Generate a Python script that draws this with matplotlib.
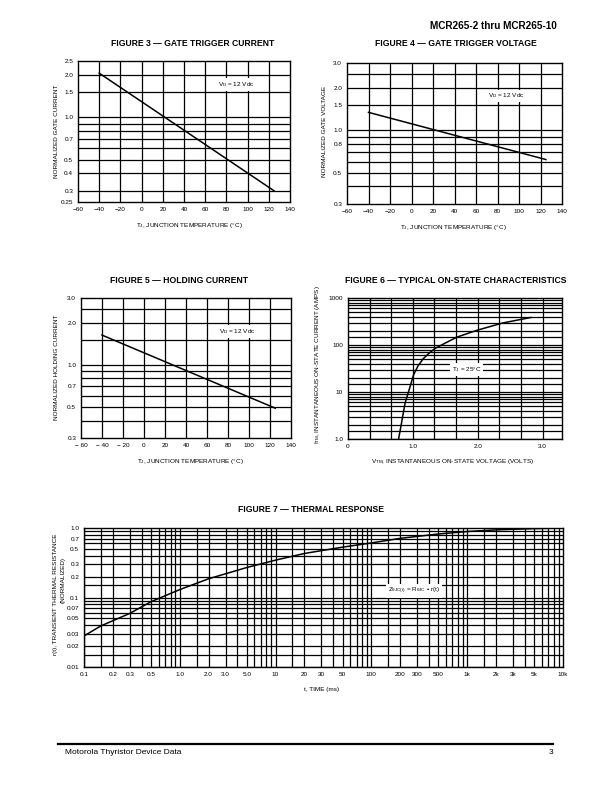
import matplotlib
matplotlib.use("Agg")
import matplotlib.pyplot as plt
from matplotlib.ticker import NullLocator

plt.rcParams['font.family'] = ['Liberation Sans', 'DejaVu Sans']
plt.rcParams['mathtext.fontset'] = 'custom'
plt.rcParams['mathtext.rm'] = 'Liberation Sans'
plt.rcParams['mathtext.it'] = 'Liberation Sans'
plt.rcParams['mathtext.default'] = 'regular'

W, H = 612, 792

# --- donnees ---
temp_f3 = [-40, 125]
igt_f3 = [2.05, 0.30]

temp_f4 = [-40, 125]
vgt_f4 = [1.34, 0.62]

temp_f5 = [-40, 125]
ih_f5 = [1.63, 0.49]

vtm_f6 = [0.78, 0.82, 0.88, 0.95, 1.01, 1.08, 1.16, 1.25, 1.34, 1.5, 1.68, 1.98, 2.39, 2.82]
itm_f6 = [1.0, 2.0, 5.8, 12, 23, 36, 51, 67, 84, 110, 147, 204, 295, 385]

t_f7 = [0.1, 0.15, 0.3, 0.5, 1, 2, 5, 10, 20, 50, 100, 200, 500, 1000, 2000, 5000, 10000]
r_f7 = [0.028, 0.039, 0.059, 0.087, 0.13, 0.186, 0.27, 0.345, 0.43, 0.53, 0.61, 0.71, 0.82, 0.89, 0.94, 0.98, 1.0]

# --- graduations ---
temp_ticks = [-60, -40, -20, 0, 20, 40, 60, 80, 100, 120, 140]
temp_labels = ['\u221260', '\u221240', '\u221220', '0', '20', '40', '60', '80', '100', '120', '140']
temp_labels_f5 = ['\u2212 60', '\u2212 40', '\u2212 20', '0', '20', '40', '60', '80', '100', '120', '140']
temp_grid = [-40, -20, 0, 20, 40, 60, 80, 100, 120]

f3_yticks = [2.5, 2.0, 1.5, 1.0, 0.7, 0.5, 0.4, 0.3, 0.25]
f3_ylabels = ['2.5', '2.0', '1.5', '1.0', '0.7', '0.5', '0.4', '0.3', '0.25']
f3_ygrid = [0.3, 0.4, 0.5, 0.6, 0.7, 0.8, 0.9, 1.0, 1.5, 2.0]

f4_yticks = [3.0, 2.0, 1.5, 1.0, 0.8, 0.5, 0.3]
f4_ylabels = ['3.0', '2.0', '1.5', '1.0', '0.8', '0.5', '0.3']
f5_yticks = [3.0, 2.0, 1.0, 0.7, 0.5, 0.3]
f5_ylabels = ['3.0', '2.0', '1.0', '0.7', '0.5', '0.3']
f45_ygrid = [0.4, 0.5, 0.6, 0.7, 0.8, 0.9, 1.0, 1.5, 2.0, 2.5]

f6_xticks = [0, 1.0, 2.0, 3.0]
f6_xlabels = ['0', '1.0', '2.0', '3.0']
f6_xgrid = [1/3, 2/3, 1.0, 4/3, 5/3, 2.0, 7/3, 8/3, 3.0]
f6_yticks = [1, 10, 100, 1000]
f6_ylabels = ['1.0', '10', '100', '1000']

f7_xticks = [0.1, 0.2, 0.3, 0.5, 1, 2, 3, 5, 10, 20, 30, 50, 100, 200, 300, 500, 1000, 2000, 3000, 5000, 10000]
f7_xlabels = ['0.1', '0.2', '0.3', '0.5', '1.0', '2.0', '3.0', '5.0', '10', '20', '30', '50',
              '100', '200', '300', '500', '1k', '2k', '3k', '5k', '10k']
f7_yticks = [1.0, 0.7, 0.5, 0.3, 0.2, 0.1, 0.07, 0.05, 0.03, 0.02, 0.01]
f7_ylabels = ['1.0', '0.7', '0.5', '0.3', '0.2', '0.1', '0.07', '0.05', '0.03', '0.02', '0.01']

mantisses = [1, 1.5, 2, 3, 4, 5, 6, 7, 8, 9]


def log_grid(lo_exp, hi_exp):
    vals = []
    for e in range(lo_exp, hi_exp):
        for m in mantisses:
            vals.append(m * 10 ** e)
    return vals


fig = plt.figure(figsize=(W / 100, H / 100), dpi=100)


def px_axes(l, t, r, b):
    return fig.add_axes([l / W, 1 - b / H, (r - l) / W, (b - t) / H])


def px_text(x, y, s, **kw):
    fig.text(x / W, 1 - y / H, s, **kw)


def style(ax, xgrid, ygrid, xticks, xlabels, yticks, ylabels):
    for v in xgrid:
        ax.axvline(v, color='black', lw=0.9, zorder=1)
    for v in ygrid:
        ax.axhline(v, color='black', lw=0.9, zorder=1)
    ax.set_xticks(xticks)
    ax.set_xticklabels(xlabels)
    ax.set_yticks(yticks)
    ax.set_yticklabels(ylabels)
    ax.xaxis.set_minor_locator(NullLocator())
    ax.yaxis.set_minor_locator(NullLocator())
    ax.tick_params(length=0, labelsize=4.6, pad=3.5)
    for s in ax.spines.values():
        s.set_linewidth(1.0)


title_kw = dict(fontsize=6.2, fontweight='bold', ha='center', va='center')
lab_kw = dict(fontsize=4.6, ha='center', va='center')
box_kw = dict(boxstyle='square,pad=0.3', fc='white', ec='none')

# en-tete
px_text(557, 26, 'MCR265-2 thru MCR265-10', fontsize=7.2, fontweight='heavy', ha='right', va='center')

# FIGURE 3
ax3 = px_axes(78, 61, 290, 202)
ax3.set_yscale('log')
ax3.set_xlim(-60, 140)
ax3.set_ylim(0.25, 2.5)
style(ax3, temp_grid, f3_ygrid, temp_ticks, temp_labels, f3_yticks, f3_ylabels)
ax3.plot(temp_f3, igt_f3, color='black', lw=1.1, zorder=3)
ax3.text(72, 1.7, '$V_D$ = 12 Vdc', fontsize=4.6, va='center', bbox=box_kw, zorder=4)
px_text(193, 43, 'FIGURE 3 \u2014 GATE TRIGGER CURRENT', **title_kw)
px_text(189, 226, '$T_J$, JUNCTION TEMPERATURE (\u00b0C)', **lab_kw)
px_text(57, 131, 'NORMALIZED GATE CURRENT', rotation=90, **lab_kw)

# FIGURE 4
ax4 = px_axes(347, 63, 562, 204)
ax4.set_yscale('log')
ax4.set_xlim(-60, 140)
ax4.set_ylim(0.3, 3.0)
style(ax4, temp_grid, f45_ygrid, temp_ticks, temp_labels, f4_yticks, f4_ylabels)
ax4.plot(temp_f4, vgt_f4, color='black', lw=1.1, zorder=3)
ax4.text(71, 1.75, '$V_D$ = 12 Vdc', fontsize=4.6, va='center', bbox=box_kw, zorder=4)
px_text(456, 43, 'FIGURE 4 \u2014 GATE TRIGGER VOLTAGE', **title_kw)
px_text(453, 227, '$T_J$, JUNCTION TEMPERATURE (\u00b0C)', **lab_kw)
px_text(324, 131, 'NORMALIZED GATE VOLTAGE', rotation=90, **lab_kw)

# FIGURE 5
ax5 = px_axes(81, 298, 291, 438)
ax5.set_yscale('log')
ax5.set_xlim(-60, 140)
ax5.set_ylim(0.3, 3.0)
style(ax5, temp_grid, f45_ygrid, temp_ticks, temp_labels_f5, f5_yticks, f5_ylabels)
ax5.plot(temp_f5, ih_f5, color='black', lw=1.1, zorder=3)
ax5.text(71, 1.73, '$V_D$ = 12 Vdc', fontsize=4.6, va='center', bbox=box_kw, zorder=4)
px_text(179, 280, 'FIGURE 5 \u2014 HOLDING CURRENT', **title_kw)
px_text(190, 461, '$T_J$, JUNCTION TEMPERATURE (\u00b0C)', **lab_kw)
px_text(57, 367, 'NORMALIZED HOLDING CURRENT', rotation=90, **lab_kw)

# FIGURE 6
ax6 = px_axes(348, 298, 562, 439)
ax6.set_yscale('log')
ax6.set_xlim(0, 3.3)
ax6.set_ylim(1, 1000)
style(ax6, f6_xgrid, log_grid(0, 3), f6_xticks, f6_xlabels, f6_yticks, f6_ylabels)
ax6.plot(vtm_f6, itm_f6, color='black', lw=1.1, zorder=3)
ax6.text(1.83, 30, '$T_J$ = 25\u00b0C', fontsize=4.6, ha='center', va='center', bbox=box_kw, zorder=4)
px_text(456, 280, 'FIGURE 6 \u2014 TYPICAL ON-STATE CHARACTERISTICS', **title_kw)
px_text(453, 461, '$V_{TM}$, INSTANTANEOUS ON-STATE VOLTAGE (VOLTS)', **lab_kw)
px_text(317, 365, '$I_{TM}$, INSTANTANEOUS ON-STATE CURRENT (AMPS)', rotation=90, **lab_kw)

# FIGURE 7
ax7 = px_axes(84, 528, 563, 667)
ax7.set_xscale('log')
ax7.set_yscale('log')
ax7.set_xlim(0.1, 10000)
ax7.set_ylim(0.01, 1.0)
style(ax7, log_grid(-1, 4), log_grid(-2, 0), f7_xticks, f7_xlabels, f7_yticks, f7_ylabels)
ax7.plot(t_f7, r_f7, color='black', lw=1.1, zorder=3)
ax7.text(280, 0.125, '$Z_{\u03b8JC(t)}$ = $R_{\u03b8JC}$ \u2022 r(t)', fontsize=4.6, ha='center', va='center',
         bbox=box_kw, zorder=4)
px_text(311, 510, 'FIGURE 7 \u2014 THERMAL RESPONSE', **title_kw)
px_text(322, 690, 't, TIME (ms)', **lab_kw)
px_text(56, 594, 'r(t), TRANSIENT THERMAL RESISTANCE', rotation=90, **lab_kw)
px_text(63, 580, '(NORMALIZED)', rotation=90, **lab_kw)

# pied de page
fig.add_artist(plt.Line2D([58 / W, 553 / W], [1 - 744 / H, 1 - 744 / H], color='black', lw=1.6))
px_text(65, 753, 'Motorola Thyristor Device Data', fontsize=6, ha='left', va='center')
px_text(553, 752, '3', fontsize=6, ha='right', va='center')

fig.savefig('out.png', dpi=100)
